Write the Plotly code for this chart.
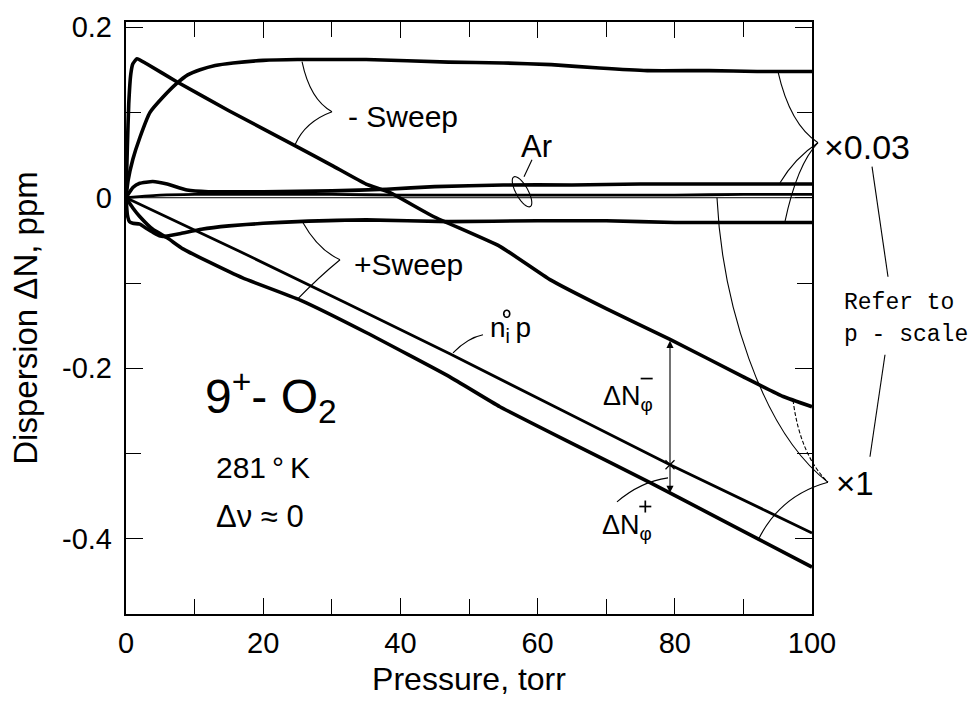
import math
import plotly.graph_objects as go

# ---------------- data: pressure p [torr] vs dispersion dN [ppm] ----------------
# "- Sweep", plotted x0.03
p_minus_s003 = [0, 0.3, 1, 2, 3.5, 5.4, 7.4, 9, 10.8, 13, 15.6, 20, 25, 35, 47, 55, 62, 69, 76, 85, 92, 100]
dn_minus_s003 = [0, 0.02, 0.045, 0.07, 0.10, 0.118, 0.134, 0.144, 0.150, 0.155, 0.158, 0.161, 0.162,
                 0.162, 0.159, 0.158, 0.156, 0.152, 0.149, 0.149, 0.148, 0.148]

# "- Sweep", plotted x1
p_minus_s1 = [0, 0.2, 0.4, 0.7, 1.0, 1.6, 3.0, 7.4, 15, 24.9, 30, 35, 38.5, 44.8, 54.5, 61.8, 70,
              79.3, 90, 95.8, 100]
dn_minus_s1 = [0, 0.06, 0.11, 0.145, 0.157, 0.163, 0.157, 0.136, 0.102, 0.060, 0.038, 0.016,
               0.006, -0.022, -0.057, -0.096, -0.130, -0.166, -0.210, -0.233, -0.245]

# Argon reference, x0.03
p_ar_003 = [0, 1, 2, 3.9, 6, 8.9, 12, 20, 30, 38, 45, 55, 65, 75, 85, 100]
dn_ar_003 = [0, 0.012, 0.017, 0.019, 0.016, 0.009, 0.007, 0.007, 0.008, 0.010, 0.013, 0.015,
             0.015, 0.016, 0.016, 0.016]

# Argon reference, x1
p_ar_1 = [0, 5, 10, 20, 30, 40, 50, 60, 70, 80, 90, 100]
dn_ar_1 = [0, 0.003, 0.004, 0.004, 0.004, 0.003, 0.003, 0.003, 0.003, 0.003, 0.004, 0.004]

# zero baseline
p_zero = [0, 100]
dn_zero = [0, 0]

# "+ Sweep", plotted x0.03
p_plus_s003 = [0, 0.2, 0.5, 1, 2, 3, 4, 5, 6, 8, 11, 15, 20, 25, 35, 47, 60, 70, 80, 90, 100]
dn_plus_s003 = [0, -0.02, -0.028, -0.030, -0.031, -0.036, -0.041, -0.045, -0.045, -0.042, -0.037,
                -0.033, -0.030, -0.028, -0.026, -0.028, -0.027, -0.027, -0.029, -0.029, -0.029]

# "+ Sweep", plotted x1
p_plus_s1 = [0, 1, 2, 3.9, 6, 8.3, 12, 17, 25.4, 35, 47.2, 54.5, 65, 76.4, 85, 92.4, 100]
dn_plus_s1 = [0, -0.012, -0.022, -0.037, -0.047, -0.060, -0.075, -0.094, -0.120, -0.158, -0.210,
              -0.245, -0.288, -0.334, -0.370, -0.401, -0.433]

# n_i^0 p line
p_nip = [0, 16.6, 47.2, 79.3, 100]
dn_nip = [0, -0.063, -0.183, -0.313, -0.393]

# axis ticks
x_ticks = [0, 20, 40, 60, 80, 100]
x_minor = [10, 30, 50, 70, 90]
y_ticks = [-0.4, -0.2, 0, 0.2]
y_ticktext = ["-0.4", "-0.2", "0", "0.2"]
y_minor = [-0.3, -0.1, 0.1]

# arrow marking dN_phi at p = 79.3
arrow_p = 79.3
arrow_top = -0.166
arrow_bottom = -0.346
arrow_mid = -0.313

# ---------------- layout geometry ----------------
W, H = 980, 702
ML, MR, MT, MB = 126, 168, 22, 88
PW, PH = W - ML - MR, H - MT - MB
XR = (0, 100)
YR = (-0.488, 0.206)

NARROW = "Liberation Sans Narrow, Liberation Sans, Arial, sans-serif"
SANS = "Liberation Sans, Arial, sans-serif"
MONO = "Liberation Mono, Courier New, monospace"


def to_px(p, v):
    return ML + (p - XR[0]) / (XR[1] - XR[0]) * PW, MT + (YR[1] - v) / (YR[1] - YR[0]) * PH


def px_to_paper(x, y):
    return (x - ML) / PW, (H - MB - y) / PH


def to_paper(p, v):
    return px_to_paper(*to_px(p, v))


def path_paper(cmds):
    """cmds: list of (letter, [(p, v), ...]) in data units -> SVG path in paper units."""
    out = []
    for letter, pts in cmds:
        coords = " ".join("%.5f,%.5f" % to_paper(p, v) for p, v in pts)
        out.append(letter + " " + coords)
    return " ".join(out)


fig = go.Figure()

thick = dict(color="black", width=3.6)
curves = [
    (p_minus_s003, dn_minus_s003, thick),
    (p_minus_s1, dn_minus_s1, thick),
    (p_ar_003, dn_ar_003, thick),
    (p_ar_1, dn_ar_1, dict(color="black", width=2.8)),
    (p_zero, dn_zero, dict(color="black", width=1)),
    (p_plus_s003, dn_plus_s003, thick),
    (p_plus_s1, dn_plus_s1, thick),
    (p_nip, dn_nip, dict(color="black", width=2.8)),
]
for xs, ys, ln in curves:
    fig.add_trace(go.Scatter(x=xs, y=ys, mode="lines", line=dict(shape="spline", smoothing=0.4, **ln),
                             hoverinfo="skip", showlegend=False, cliponaxis=True))

# small cross where the arrow meets the n_i^0 p line
fig.add_trace(go.Scatter(x=[arrow_p], y=[arrow_mid], mode="markers",
                         marker=dict(symbol="x-thin", size=9, line=dict(width=1.2, color="black")),
                         hoverinfo="skip", showlegend=False))

# ---------------- leader lines / braces ----------------
thin = dict(color="black", width=1.1)
leaders = [
    # - Sweep brace
    [("M", [(25.66, 0.1595)]), ("Q", [(26.82, 0.1149), (30.03, 0.1008)])],
    [("M", [(30.03, 0.1008)]), ("Q", [(26.09, 0.0891), (24.64, 0.0621)])],
    # + Sweep brace
    [("M", [(25.80, -0.0293)]), ("Q", [(27.99, -0.0610), (31.20, -0.0727)])],
    [("M", [(31.20, -0.0727)]), ("Q", [(27.99, -0.0938), (24.93, -0.1196)])],
    # Ar leader
    [("M", [(59.18, 0.0446)]), ("L", [(58.02, 0.0246)])],
    # x0.03 brace
    [("M", [(95.04, 0.1477)]), ("Q", [(96.79, 0.0856), (100.87, 0.0645)])],
    [("M", [(95.34, 0.0176)]), ("Q", [(97.52, 0.0469), (100.87, 0.0645)])],
    [("M", [(100.87, 0.0645)]), ("Q", [(97.81, 0.0387), (96.06, -0.0281)])],
    # Refer to p-scale pointers
    [("M", [(108.75, 0.0364)]), ("L", [(111.08, -0.0926)])],
    [("M", [(108.45, -0.3037)]), ("L", [(110.64, -0.1841)])],
    # x1 brace
    [("M", [(86.15, 0.0)]), ("C", [(86.88, -0.1196), (92.42, -0.2721), (102.33, -0.3335)])],
    [("M", [(102.33, -0.3335)]), ("Q", [(95.34, -0.3487), (92.13, -0.4015)])],
    # n_i^0 p leader
    [("M", [(47.67, -0.1818)]), ("Q", [(49.85, -0.1642), (52.04, -0.1607)])],
    # dN_phi^+ leader
    [("M", [(71.57, -0.3566)]), ("Q", [(74.93, -0.3331), (79.01, -0.3284)])],
]
shapes = []
for cmds in leaders:
    shapes.append(dict(type="path", xref="paper", yref="paper", path=path_paper(cmds), line=thin,
                       layer="above"))
# dashed arm of the x1 brace
shapes.append(dict(type="path", xref="paper", yref="paper",
                   path=path_paper([("M", [(97.23, -0.2369)]),
                                    ("Q", [(98.25, -0.3014), (102.33, -0.3335)])]),
                   line=dict(color="black", width=1.1, dash="4px,2px"), layer="above"))


def ellipse_path(p, v, a_px, b_px, tilt_deg, n=40):
    cx, cy = to_px(p, v)
    tilt = math.radians(tilt_deg)
    pts = []
    for k in range(n + 1):
        t = 2 * math.pi * k / n
        ex, ey = a_px * math.cos(t), b_px * math.sin(t)
        rx = ex * math.cos(tilt) + ey * math.sin(tilt)
        ry = -ex * math.sin(tilt) + ey * math.cos(tilt)
        pts.append(px_to_paper(cx + rx, cy + ry))
    return "M " + " L ".join("%.5f,%.5f" % q for q in pts) + " Z"


def seg_px(x0, y0, x1, y1, width=1.7):
    a = px_to_paper(x0, y0)
    b = px_to_paper(x1, y1)
    shapes.append(dict(type="line", xref="paper", yref="paper", x0=a[0], y0=a[1], x1=b[0], y1=b[1],
                       line=dict(color="black", width=width), layer="above"))


# tilted ellipse around the Ar pair
shapes.append(dict(type="path", xref="paper", yref="paper", path=ellipse_path(57.73, 0.007, 6, 17, 29),
                   line=thin, layer="above"))

# degree mark over the subscript i of n_i^0
shapes.append(dict(type="path", xref="paper", yref="paper", path=ellipse_path(55.5, -0.136, 3, 3.5, 0),
                   line=dict(color="black", width=1.6), layer="above"))

# bar over phi in dN_phi^-
bx, by = to_px(75.9, -0.212)
seg_px(bx - 6, by, bx + 6, by)
# plus over phi in dN_phi^+
cx_, cy_ = to_px(75.7, -0.362)
seg_px(cx_ - 6, cy_, cx_ + 6, cy_)
seg_px(cx_, cy_ - 6, cx_, cy_ + 6)

# ---------------- text labels ----------------
ann = []


def label(p, v, text, size=30, family=SANS, xanchor="center", yanchor="middle"):
    xp, yp = to_paper(p, v)
    ann.append(dict(x=xp, y=yp, xref="paper", yref="paper", text=text, showarrow=False,
                    xanchor=xanchor, yanchor=yanchor, font=dict(family=family, size=size, color="black")))


label(40.38, 0.0950, "- Sweep", size=30)
label(41.11, -0.0786, "+Sweep", size=30)
label(59.91, 0.0598, "Ar", size=31)
label(101.5, 0.0598, "×0.03", size=34, xanchor="left")
label(103.2, -0.3346, "×1", size=33, xanchor="left")
label(104.4, -0.1232, "Refer to", size=23, family=MONO, xanchor="left")
label(104.4, -0.1607, "p - scale", size=23, family=MONO, xanchor="left")
label(56.0, -0.1548, "n<sub>i</sub>\u2009p", size=28)
label(73.2, -0.2345, "ΔN<sub>φ</sub>", size=27)
label(73.0, -0.3857, "ΔN<sub>φ</sub>", size=27)
label(21.14, -0.2333, "9<sup>+</sup>- O<sub>2</sub>", size=48)
label(19.97, -0.3166, "281\u2009°\u2009K", size=30)
label(19.53, -0.3741, "Δν ≈ 0", size=31)

# double-headed arrow for dN_phi^-
ann.append(dict(x=arrow_p, y=arrow_bottom, ax=arrow_p, ay=arrow_top, xref="x", yref="y",
                axref="x", ayref="y", text="", showarrow=True, arrowhead=2, startarrowhead=2,
                arrowside="end+start", arrowwidth=1.1, arrowsize=1.3, startarrowsize=1.3,
                arrowcolor="black", standoff=0, startstandoff=0))

fig.update_layout(
    width=W, height=H,
    margin=dict(l=ML, r=MR, t=MT, b=MB, autoexpand=False),
    paper_bgcolor="white", plot_bgcolor="white",
    showlegend=False,
    shapes=shapes, annotations=ann,
    xaxis=dict(range=list(XR), tickvals=x_ticks, ticks="inside", ticklen=16, tickwidth=1.4,
               minor=dict(tickvals=x_minor, ticks="inside", ticklen=15, tickwidth=1.4, tickcolor="black"),
               tickcolor="black", showline=True, linewidth=2, linecolor="black", mirror="ticks",
               showgrid=False, zeroline=False, ticklabelstandoff=2,
               tickfont=dict(family=NARROW, size=29, color="black"),
               title=dict(text="Pressure, torr", standoff=10,
                          font=dict(family=NARROW, size=32, color="black"))),
    yaxis=dict(range=list(YR), tickvals=y_ticks, ticktext=y_ticktext, ticks="inside", ticklen=17,
               tickwidth=1.4, tickcolor="black",
               minor=dict(tickvals=y_minor, ticks="inside", ticklen=15, tickwidth=1.4, tickcolor="black"),
               showline=True, linewidth=2.4, linecolor="black", mirror="ticks",
               showgrid=False, zeroline=False, ticklabelstandoff=6,
               tickfont=dict(family=NARROW, size=29, color="black"),
               title=dict(text="Dispersion ΔN, ppm", standoff=14,
                          font=dict(family=NARROW, size=33, color="black"))),
)

fig.write_html("out.html")
